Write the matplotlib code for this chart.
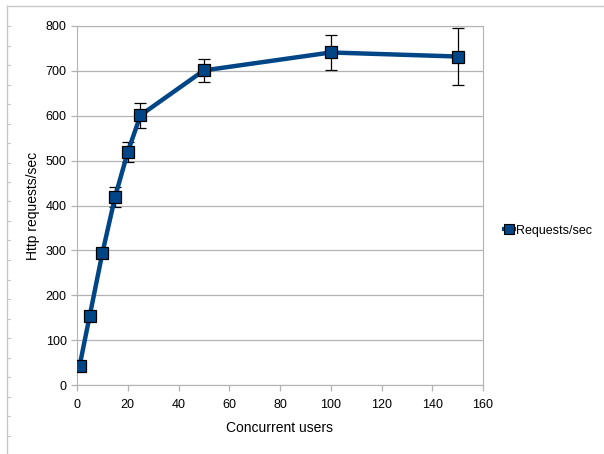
import numpy as np
import matplotlib.pyplot as plt
from matplotlib.lines import Line2D

# Throughput measurements
users = [1, 5, 10, 15, 20, 25, 50, 100, 150]
requests = [42, 154, 294, 419, 519, 601, 701, 741, 732]
errors = [3, 6, 12, 23, 23, 28, 25, 38, 64]

plt.rcParams['font.family'] = ['Liberation Sans', 'DejaVu Sans']

fig = plt.figure(figsize=(6.04, 4.54), dpi=100)
ax = fig.add_axes([77 / 604, 69 / 454, 406 / 604, 359 / 454])

blue = '#004586'
grid_c = '#b3b3b3'

ax.errorbar(users, requests, yerr=errors, color=blue, lw=3.2,
            marker='s', ms=9, mfc=blue, mec='black', mew=0.9,
            ecolor='black', elinewidth=0.9, capsize=4, capthick=0.9,
            label='Requests/sec', zorder=3)

ax.set_xlim(0, 160)
ax.set_ylim(0, 800)
ax.set_xticks(np.arange(0, 161, 20))
ax.set_yticks(np.arange(0, 801, 100))
ax.yaxis.grid(True, color=grid_c, lw=0.9)
ax.set_axisbelow(True)
for s in ax.spines.values():
    s.set_color(grid_c)
ax.tick_params(colors=grid_c, labelcolor='black', labelsize=9, length=4, width=0.9)
ax.tick_params(axis='x', pad=6)
ax.set_xlabel('Concurrent users', fontsize=10, labelpad=7)
ax.set_ylabel('Http requests/sec', fontsize=10, labelpad=4)

handles, labels = ax.get_legend_handles_labels()
leg_h = Line2D([], [], color=blue, lw=3, marker='s', ms=7, mfc=blue, mec='black', mew=0.8)
ax.legend([leg_h], labels, loc='center left', bbox_to_anchor=(1.025, 0.43),
          frameon=False, fontsize=9, handlelength=0.8, handletextpad=0.1)

# sheet border with ruler ticks
fig.add_artist(Line2D([7 / 604, 7 / 604], [0, 1 - 6 / 454], color='#c8c8c8', lw=1))
fig.add_artist(Line2D([7 / 604, 1], [1 - 6 / 454, 1 - 6 / 454], color='#c8c8c8', lw=1))
for yy in np.arange(26, 454, 19.5):
    fig.add_artist(Line2D([7 / 604, 10 / 604], [1 - yy / 454] * 2, color='#c8c8c8', lw=0.8))

fig.savefig('out.png', dpi=100)
